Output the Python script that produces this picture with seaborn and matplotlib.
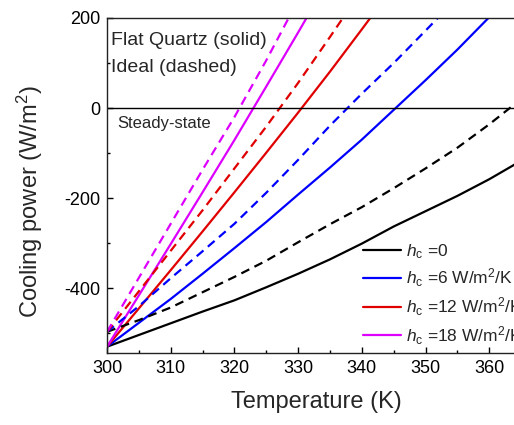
import numpy as np
import pandas as pd
import matplotlib
matplotlib.use("Agg")
import matplotlib.pyplot as plt
from matplotlib.ticker import MultipleLocator
import seaborn as sns

# ---- data ----
T_all = [300, 305, 310, 315, 320, 325, 330, 335, 340, 345, 350, 355, 360, 365]
quartz_h0 = [-530, -504, -478, -452, -427, -398, -368, -336, -301, -263, -229, -195, -158, -117]
ideal_h0 = [-497, -471, -443, -409, -375, -339, -298, -258, -220, -178, -134, -88, -36, 20]
quartz_h6 = [-530, -477, -424, -368, -311, -253, -192, -132, -70, -4, 62, 130, 202, 276]
ideal_h6 = [-497, -440, -378, -318, -257, -188, -115, -39, 32, 100, 172, 245]
quartz_h12 = [-530, -445, -360, -274, -187, -99, -10, 81, 175, 270]
ideal_h12 = [-497, -407, -317, -227, -134, -41, 56, 158, 262]
quartz_h18 = [-530, -416, -302, -187, -71, 48, 168, 290]
ideal_h18 = [-497, -377, -257, -137, -20, 106, 240]

labels = [r"$h_{\rm c}$ =0", r"$h_{\rm c}$ =6 W/m$^2$/K",
          r"$h_{\rm c}$ =12 W/m$^2$/K", r"$h_{\rm c}$ =18 W/m$^2$/K"]
colors = ["#000000", "#0000ff", "#e00000", "#dd00ff"]
solid_series = [quartz_h0, quartz_h6, quartz_h12, quartz_h18]
dashed_series = [ideal_h0, ideal_h6, ideal_h12, ideal_h18]

sns.set_style("ticks")
plt.rcParams['font.family'] = ['Liberation Sans', 'DejaVu Sans']
plt.rcParams['mathtext.fontset'] = 'custom'
plt.rcParams['mathtext.rm'] = 'Liberation Sans'
plt.rcParams['mathtext.it'] = 'Liberation Sans:italic'
plt.rcParams['axes.unicode_minus'] = False

fig = plt.figure(figsize=(5.14, 4.25), dpi=100)
ax = fig.add_axes([107/514, (425-353)/425, 418/514, (353-18)/425])

for vals, lab, c in zip(solid_series, labels, colors):
    df = pd.DataFrame({"T": T_all[:len(vals)], "P": vals})
    sns.lineplot(data=df, x="T", y="P", color=c, lw=1.6, ax=ax, label=lab)
for vals, c in zip(dashed_series, colors):
    df = pd.DataFrame({"T": T_all[:len(vals)], "P": vals})
    sns.lineplot(data=df, x="T", y="P", color=c, lw=1.6, ax=ax,
                 linestyle=(0, (4, 2.6)), legend=False)

ax.axhline(0, color="black", lw=1.0)

ax.set_xlim(300, 365.6)
ax.set_ylim(-544, 200)
ax.xaxis.set_major_locator(MultipleLocator(10))
ax.xaxis.set_minor_locator(MultipleLocator(5))
ax.yaxis.set_major_locator(MultipleLocator(200))
ax.yaxis.set_minor_locator(MultipleLocator(100))
ax.tick_params(which="both", direction="in", width=1.0, labelsize=13, colors="black")
ax.tick_params(which="major", length=4.5, pad=5)
ax.tick_params(which="minor", length=2.5)
for s in ax.spines.values():
    s.set_linewidth(1.0)
    s.set_color("#222222")

ax.set_xlabel("Temperature (K)", fontsize=17, labelpad=10)
ax.set_ylabel("Cooling power (W/m$^2$)", fontsize=17)
ax.yaxis.set_label_coords(-0.148, 0.451)

fig.text(111/514, 1-45/425, "Flat Quartz (solid)", fontsize=14, va="baseline", ha="left")
fig.text(111/514, 1-72/425, "Ideal (dashed)", fontsize=14, va="baseline", ha="left")
fig.text(117/514, 1-128/425, "Steady-state", fontsize=12, va="baseline", ha="left")

leg = ax.legend(loc="upper left", bbox_to_anchor=(363/514, 1-242/425),
                bbox_transform=fig.transFigure, frameon=False, fontsize=12.5,
                handlelength=2.2, handletextpad=0.25, labelspacing=0.35,
                borderaxespad=0, borderpad=0)

fig.savefig("out.png", dpi=100)
